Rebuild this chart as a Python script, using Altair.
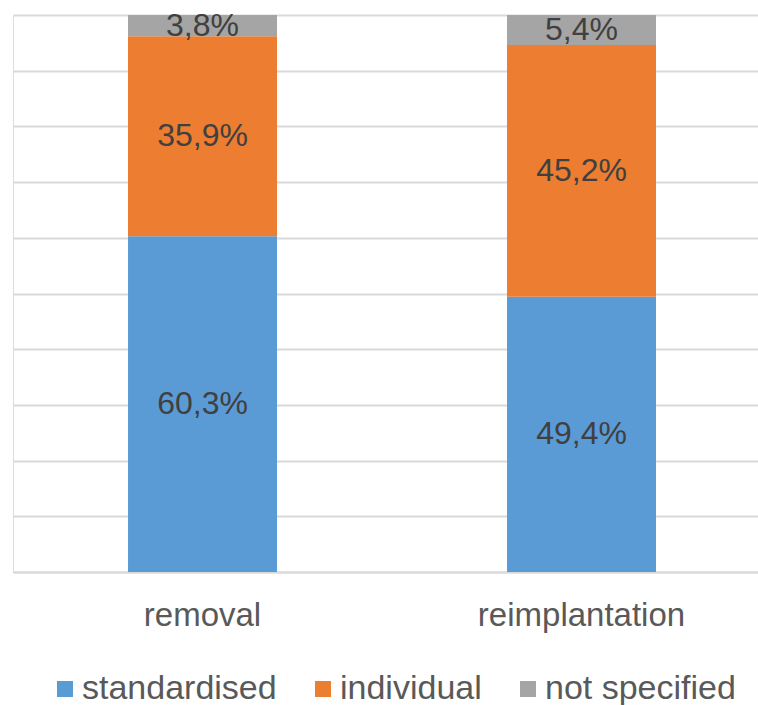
import altair as alt
import pandas as pd

categories = ["removal", "reimplantation"]
series = ["standardised", "individual", "not specified"]
standardised = [60.3, 49.4]
individual = [35.9, 45.2]
not_specified = [3.8, 5.4]
colors = ["#5B9BD5", "#ED7D31", "#A5A5A5"]

rows = []
for i, cat in enumerate(categories):
    for j, (name, vals) in enumerate(zip(series, [standardised, individual, not_specified])):
        v = vals[i]
        rows.append({
            "category": cat,
            "series": name,
            "order": j,
            "value": v,
            "label": f"{v:.1f}".replace(".", ",") + "%",
        })
df = pd.DataFrame(rows)

FONT = "Liberation Sans"

x = alt.X(
    "category:N",
    sort=categories,
    title=None,
    scale=alt.Scale(paddingInner=0.6069, paddingOuter=0.2863, align=0.53),
    axis=alt.Axis(
        labelAngle=0,
        labelFontSize=33,
        labelColor="#595959",
        labelFont=FONT,
        labelPadding=27,
        labelLimit=400,
        ticks=False,
        tickSize=0,
        domain=True,
        domainColor="#D9D9D9",
        domainWidth=2,
        grid=False,
    ),
)

bars = alt.Chart(df).mark_bar().encode(
    x=x,
    y=alt.Y(
        "value:Q",
        stack="zero",
        title=None,
        scale=alt.Scale(domain=[0, 100], nice=False),
        axis=alt.Axis(
            labels=False,
            ticks=False,
            domain=False,
            grid=True,
            gridColor="#D9D9D9",
            gridWidth=2,
            values=[0, 10, 20, 30, 40, 50, 60, 70, 80, 90, 100],
        ),
    ),
    color=alt.Color(
        "series:N",
        sort=series,
        scale=alt.Scale(domain=series, range=colors),
        legend=alt.Legend(
            title=None,
            orient="none",
            direction="horizontal",
            legendX=35,
            legendY=657,
            symbolType="square",
            symbolSize=256,
            symbolStrokeWidth=0,
            labelFontSize=34,
            labelFont=FONT,
            labelColor="#595959",
            labelOffset=0,
            columnPadding=29,
            padding=0,
            labelLimit=400,
        ),
    ),
    order=alt.Order("order:Q", sort="ascending"),
)

text = alt.Chart(df).transform_window(
    cum="sum(value)",
    groupby=["category"],
    sort=[alt.SortField("order", order="ascending")],
).transform_calculate(
    mid="datum.cum - datum.value / 2"
).mark_text(
    fontSize=32, font=FONT, color="#404040", baseline="middle", align="center"
).encode(
    x=alt.X("category:N", sort=categories),
    y=alt.Y("mid:Q"),
    text="label:N",
)

chart = alt.layer(bars, text).properties(
    width=745,
    height=557,
    autosize=alt.AutoSizeParams(type="none"),
    padding={"left": 13, "top": 15, "right": 0, "bottom": 133},
).configure_view(stroke=None).configure(background="white")

chart.save("out.html", embed_options={"renderer": "svg", "actions": False})
